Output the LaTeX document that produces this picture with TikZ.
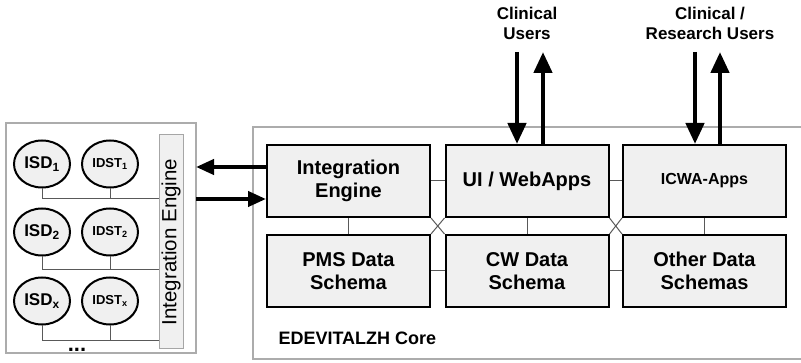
\documentclass[tikz,border=0pt]{standalone}
\usepackage{fontspec}
\setmainfont{Liberation Sans}
\usepackage{tikz}
\usetikzlibrary{shapes.geometric, arrows.meta, positioning}
\tikzstyle{block} = [rectangle, draw=black, line width=2pt, fill=gray!12, minimum width=163, minimum height=72, inner sep=0pt, text centered, align=center, font=\fontsize{20}{23.5}\selectfont\bfseries]
\tikzstyle{source} = [ellipse, draw=black, line width=2pt, fill=gray!12, minimum width=56, minimum height=47, inner sep=0pt, font=\bfseries]
\tikzstyle{frame} = [draw=gray!65, line width=1.5pt]
\tikzstyle{link} = [draw=black!65, line width=1pt]
\tikzstyle{arrow} = [line width=4pt, -{Triangle[length=18pt,width=15pt]}]
\tikzstyle{userarrow} = [line width=4.5pt, -{Triangle[length=21pt,width=18pt]}]
\tikzstyle{title} = [align=center, font=\fontsize{17}{20}\selectfont\bfseries]

\begin{document}
\begin{tikzpicture}[x=1pt, y=-1pt]
	\useasboundingbox (0,0) rectangle (801,363);

	% Left side: sources and integration engine
	\draw [frame, fill=white] (6,123) rectangle (196,353);
	\coordinate (lsys) at (196,240);
	\node (ieng) [rectangle, draw=gray!70, line width=1pt, fill=gray!12, rotate=90, minimum width=214, minimum height=24, inner sep=0pt, font=\fontsize{20.5}{22}\selectfont] at (171,242) {Integration Engine};

	\node (isd1)  [source, font=\fontsize{17}{19}\selectfont\bfseries] at (42,164)  {ISD\textsubscript{1}};
	\node (idst1) [source, font=\fontsize{13}{15}\selectfont\bfseries] at (110,164) {IDST\textsubscript{1}};
	\node (isd2)  [source, font=\fontsize{17}{19}\selectfont\bfseries] at (42,232)  {ISD\textsubscript{2}};
	\node (idst2) [source, font=\fontsize{13}{15}\selectfont\bfseries] at (110,232) {IDST\textsubscript{2}};
	\node (isdx)  [source, font=\fontsize{17}{19}\selectfont\bfseries] at (42,301)  {ISD\textsubscript{x}};
	\node (idstx) [source, font=\fontsize{13}{15}\selectfont\bfseries] at (110,301) {IDST\textsubscript{x}};
	\node (dots) [anchor=base, inner sep=0pt, font=\fontsize{22}{24}\selectfont\bfseries] at (77,351.5) {...};

	\path [link] (isd1.south) |- (ieng.north |- 0,199);
	\path [link] (idst1.south) -- (idst1.south |- 0,199);
	\path [link] (isd2.south) |- (ieng.north |- 0,270);
	\path [link] (idst2.south) -- (idst2.south |- 0,270);
	\path [link] (isdx.south) |- (ieng.north |- 0,341);
	\path [link] (idstx.south) -- (idstx.south |- 0,341);

	% Core
	\draw [frame] (253,127) rectangle (812,359);
	\node (core) [anchor=west, font=\fontsize{18}{20}\selectfont\bfseries] at (275,338) {EDEVITALZH Core};

	\node (ie)    [block] at (348.5,181) {Integration\\Engine};
	\node (ui)    [block] at (527,181)   {UI / WebApps};
	\node (icwa)  [block, font=\fontsize{16}{19}\selectfont\bfseries] at (704.5,181) {ICWA-Apps};
	\node (pms)   [block] at (348.5,271) {PMS Data\\Schema};
	\node (cw)    [block] at (527,271)   {CW Data\\Schema};
	\node (other) [block] at (704.5,271) {Other Data\\Schemas};

	% Links inside the core
	\path [link] (ie) -- (ui);
	\path [link] (ui) -- (icwa);
	\path [link] (pms) -- (cw);
	\path [link] (cw) -- (other);
	\path [link] (ie) -- (pms);
	\path [link] (ui) -- (cw);
	\path [link] (icwa) -- (other);
	\path [link] (ie.south east) -- (cw.north west);
	\path [link] (ui.south west) -- (pms.north east);
	\path [link] (ui.south east) -- (other.north west);
	\path [link] (icwa.south west) -- (cw.north east);

	% Users
	\node (clin) [title] at (527,23) {Clinical\\Users};
	\node (res)  [title] at (710,23) {Clinical /\\Research Users};
	\coordinate (uiin)  at (517,52);
	\coordinate (uiout) at (543,52);
	\coordinate (icin)  at (695,52);
	\coordinate (icout) at (720,52);
	\draw [userarrow] (uiin) -- (uiin |- ui.north);
	\draw [userarrow] (uiout |- ui.north) -- (uiout);
	\draw [userarrow] (icin) -- (icin |- icwa.north);
	\draw [userarrow] (icout |- icwa.north) -- (icout);

	% Core <-> integration engine
	\draw [arrow] (ie.west |- 0,167) -- (lsys |- 0,167);
	\draw [arrow] (lsys |- 0,199) -- (ie.west |- 0,199);
\end{tikzpicture}
\end{document}
